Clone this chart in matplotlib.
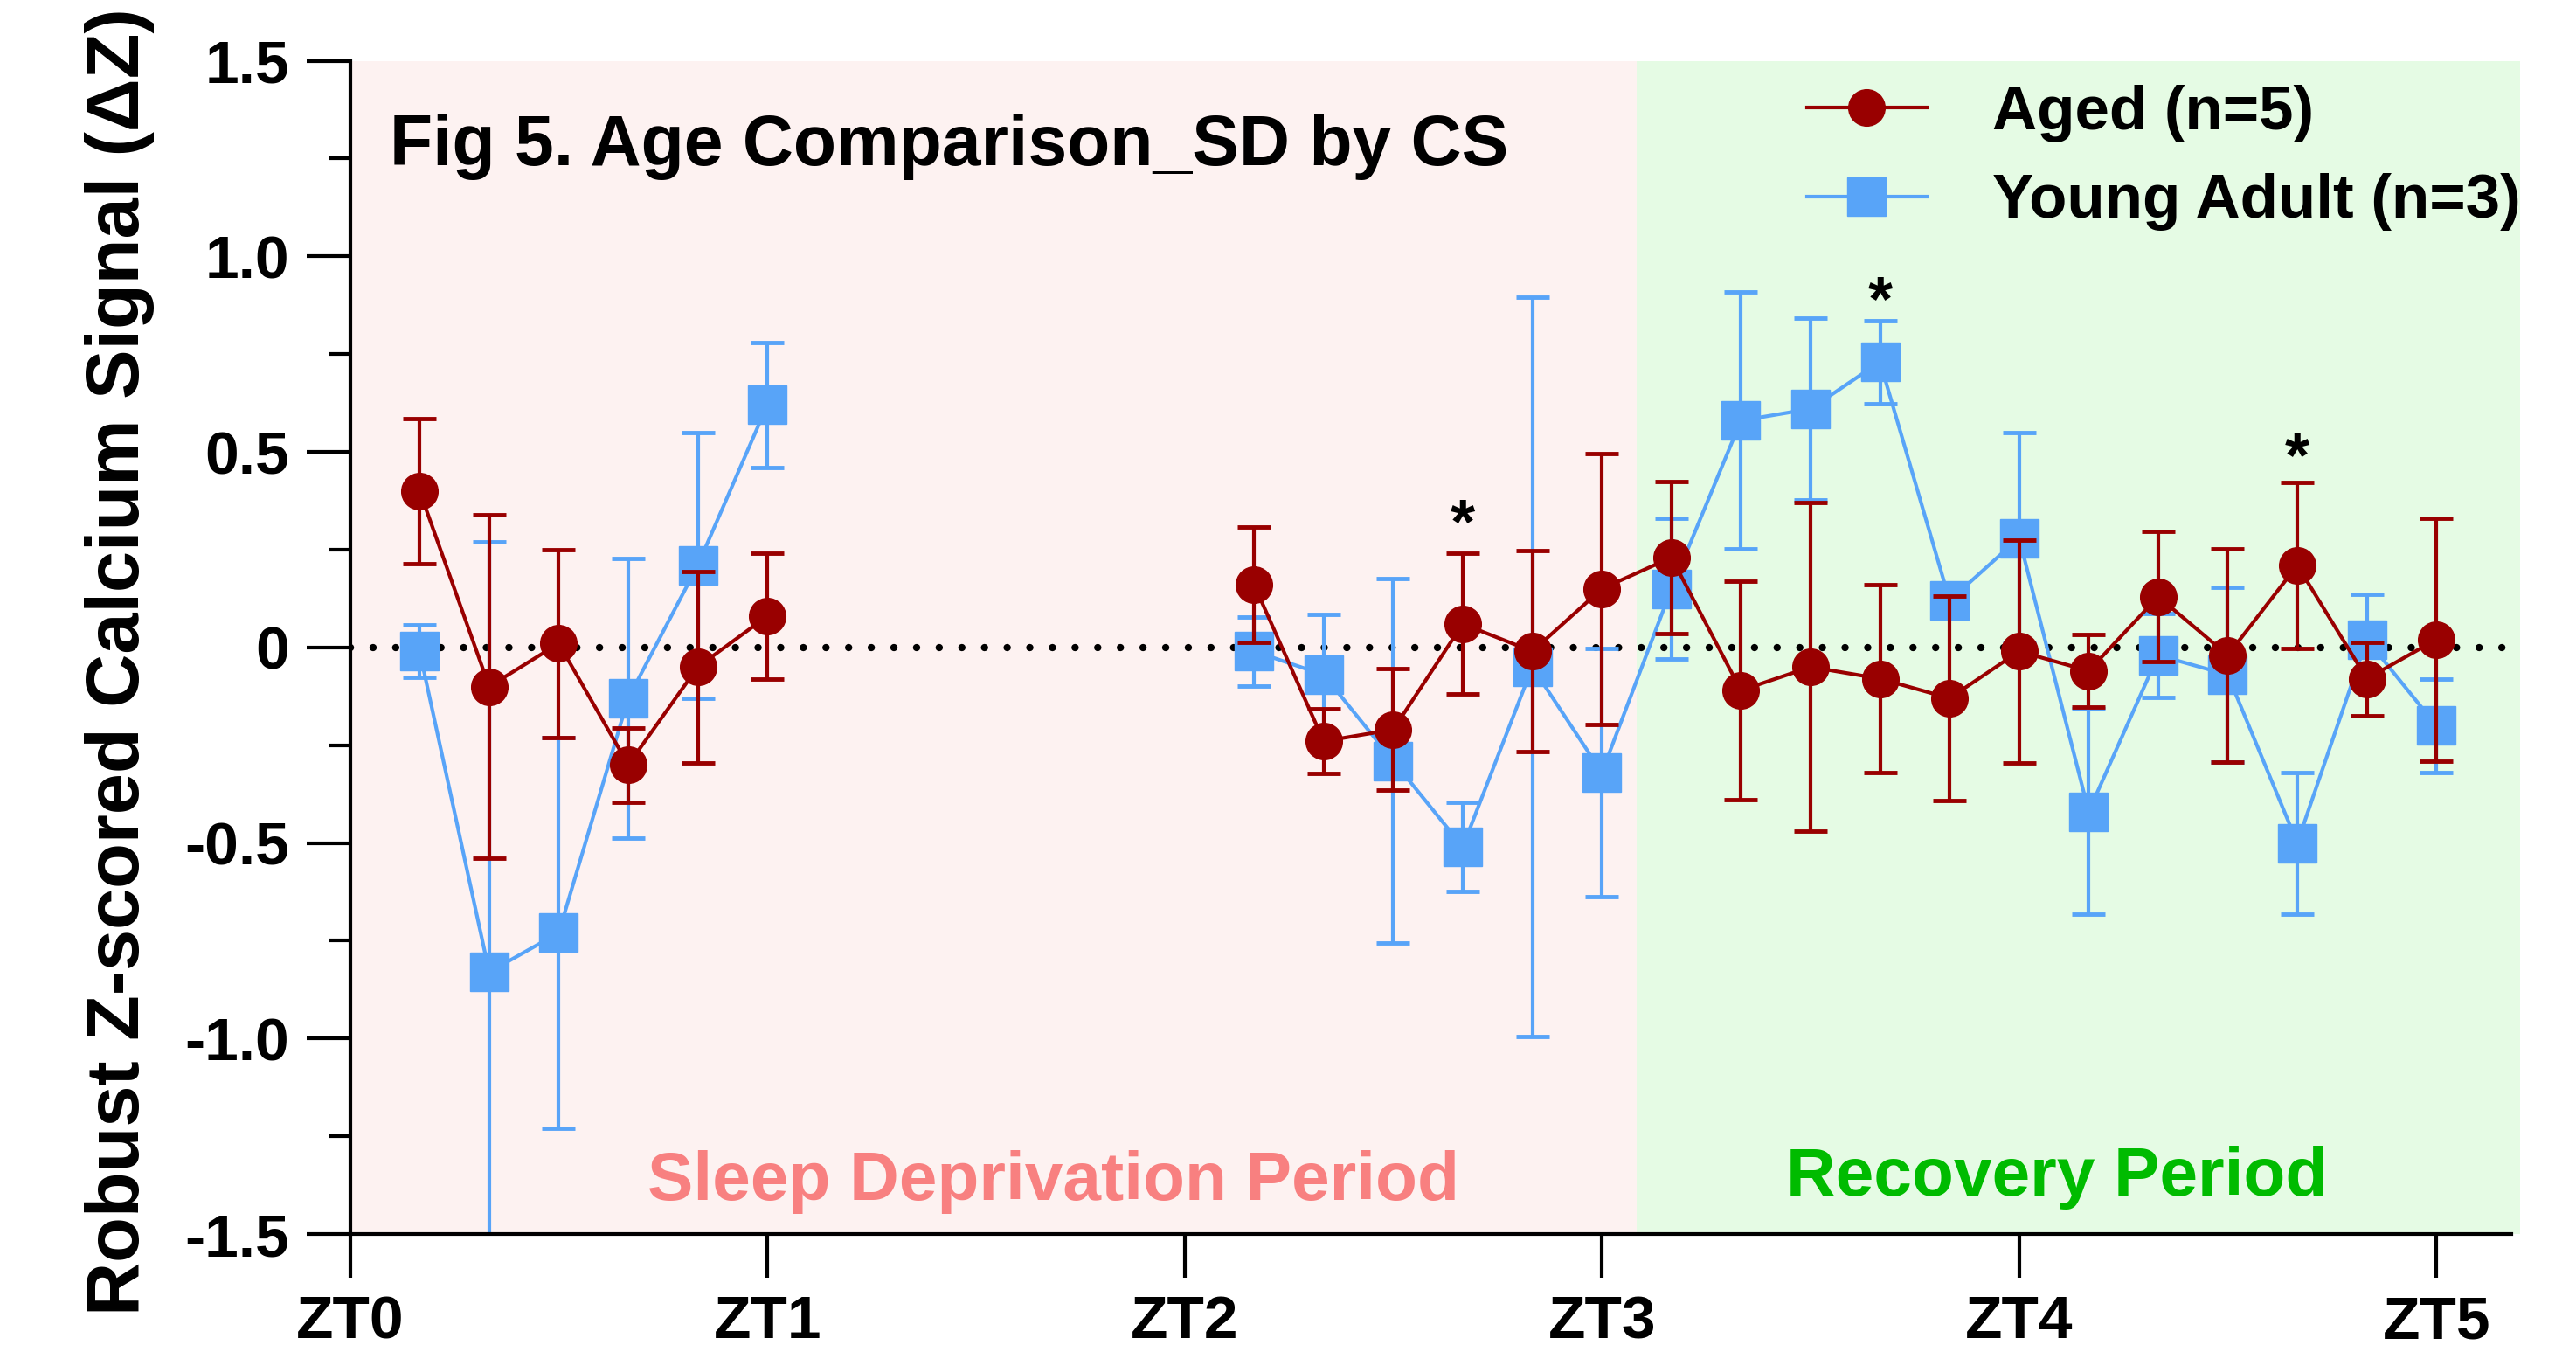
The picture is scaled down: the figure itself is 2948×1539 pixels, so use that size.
import numpy as np
import matplotlib
matplotlib.use("Agg")
import matplotlib.pyplot as plt
from matplotlib.ticker import MultipleLocator, FuncFormatter

plt.rcParams['font.family'] = ['Liberation Sans', 'DejaVu Sans']
plt.rcParams['font.weight'] = 'bold'

# time bins (ZT hours), 10-min bins; ZT1-ZT2 not recorded
zt = np.array([1, 2, 3, 4, 5, 6,
               13, 14, 15, 16, 17, 18, 19, 20, 21, 22, 23, 24,
               25, 26, 27, 28, 29, 30]) / 6.0

aged_mean = [0.40, -0.10, 0.01, -0.30, -0.05, 0.08,
             0.16, -0.24, -0.21, 0.06, -0.01, 0.15,
             0.23, -0.11, -0.05, -0.08, -0.13, -0.01,
             -0.06, 0.13, -0.02, 0.21, -0.08, 0.02]
aged_sem = [0.185, 0.44, 0.24, 0.095, 0.245, 0.16,
            0.147, 0.083, 0.155, 0.18, 0.257, 0.346,
            0.195, 0.28, 0.42, 0.24, 0.262, 0.285,
            0.093, 0.166, 0.273, 0.212, 0.094, 0.31]

young_mean = [-0.01, -0.83, -0.73, -0.13, 0.21, 0.62,
              -0.01, -0.07, -0.29, -0.51, -0.05, -0.32,
              0.15, 0.58, 0.61, 0.73, 0.12, 0.28,
              -0.42, -0.02, -0.07, -0.50, 0.02, -0.20]
young_sem = [0.067, 1.10, 0.50, 0.357, 0.34, 0.16,
             0.088, 0.154, 0.465, 0.113, 0.945, 0.318,
             0.18, 0.329, 0.233, 0.106, 0.03, 0.27,
             0.263, 0.107, 0.224, 0.181, 0.115, 0.119]

star_x = np.array([16, 22, 28]) / 6.0
star_y = [0.31, 0.88, 0.48]

xtick_labels = ['ZT0', 'ZT1', 'ZT2', 'ZT3', 'ZT4', 'ZT5']

red = '#990000'
blue = '#58A4F8'

fig = plt.figure(figsize=(29.48, 15.39), dpi=100)
ax = fig.add_axes([0.1359, 0.0825, 0.8423, 0.8723])

ax.axvspan(0, 3.083, color='#FDF2F1', zorder=0, lw=0)
ax.axvspan(3.083, 5.2, color='#E5FBE4', zorder=0, lw=0)
ax.axhline(0, color='black', lw=6, dashes=(0.01, 3.1), dash_capstyle='round', zorder=1)

# split at the gap so lines don't join ZT1 to ZT2+
for mean, sem, col, mk, lab in [(young_mean, young_sem, blue, 's', 'Young Adult (n=3)'),
                                 (aged_mean, aged_sem, red, 'o', 'Aged (n=5)')]:
    mean = np.array(mean)
    sem = np.array(sem)
    for seg in [slice(0, 6), slice(6, 24)]:
        eb = ax.errorbar(zt[seg], mean[seg], yerr=sem[seg], color=col, marker=mk,
                         ms=31 if mk == 's' else 30, lw=3, elinewidth=3, capsize=14,
                         capthick=3.5, mec=col, zorder=3 if mk == 'o' else 2,
                         label=lab if seg.start == 0 else None)

for sx, sy in zip(star_x, star_y):
    ax.text(sx, sy, '*', ha='center', va='center', fontsize=52, fontweight='bold')

ax.text(0.095, 1.28, 'Fig 5. Age Comparison_SD by CS', fontsize=58, fontweight='bold',
        ha='left', va='center')
ax.text(1.685, -1.367, 'Sleep Deprivation Period', fontsize=56.5, fontweight='bold',
        color='#F88080', ha='center', va='center')
ax.text(4.09, -1.355, 'Recovery Period', fontsize=56.5, fontweight='bold',
        color='#00BB00', ha='center', va='center')

handles, labels = ax.get_legend_handles_labels()
order = [1, 0]
leg = ax.legend([handles[i][0] for i in order], [labels[i] for i in order],
                loc='upper left', bbox_to_anchor=(0.6457, 1.027), frameon=False,
                fontsize=51, handlelength=1.94, handletextpad=1.06, labelspacing=0.5)

ax.set_xlim(0, 5.2)
ax.set_ylim(-1.5, 1.5)
ax.set_xticks(range(6))
ax.set_xticklabels(xtick_labels)
ax.yaxis.set_major_locator(MultipleLocator(0.5))
ax.yaxis.set_minor_locator(MultipleLocator(0.25))
ax.yaxis.set_major_formatter(FuncFormatter(lambda v, p: '0' if abs(v) < 1e-9 else '%.1f' % v))

ax.spines['top'].set_visible(False)
ax.spines['right'].set_visible(False)
ax.spines['left'].set_linewidth(3)
ax.spines['bottom'].set_linewidth(3)
ax.spines['bottom'].set_bounds(0, 5.18)
ax.tick_params(axis='both', which='major', length=36, width=3, labelsize=50, pad=14)
ax.tick_params(axis='y', which='minor', length=18, width=3)
for t in ax.get_xticklabels() + ax.get_yticklabels():
    t.set_fontweight('bold')

ax.set_ylabel('Robust Z-scored Calcium Signal (ΔZ)', fontsize=61, fontweight='bold')
ax.yaxis.set_label_coords(-0.09, 0.488)

fig.savefig('out.png', dpi=100)
